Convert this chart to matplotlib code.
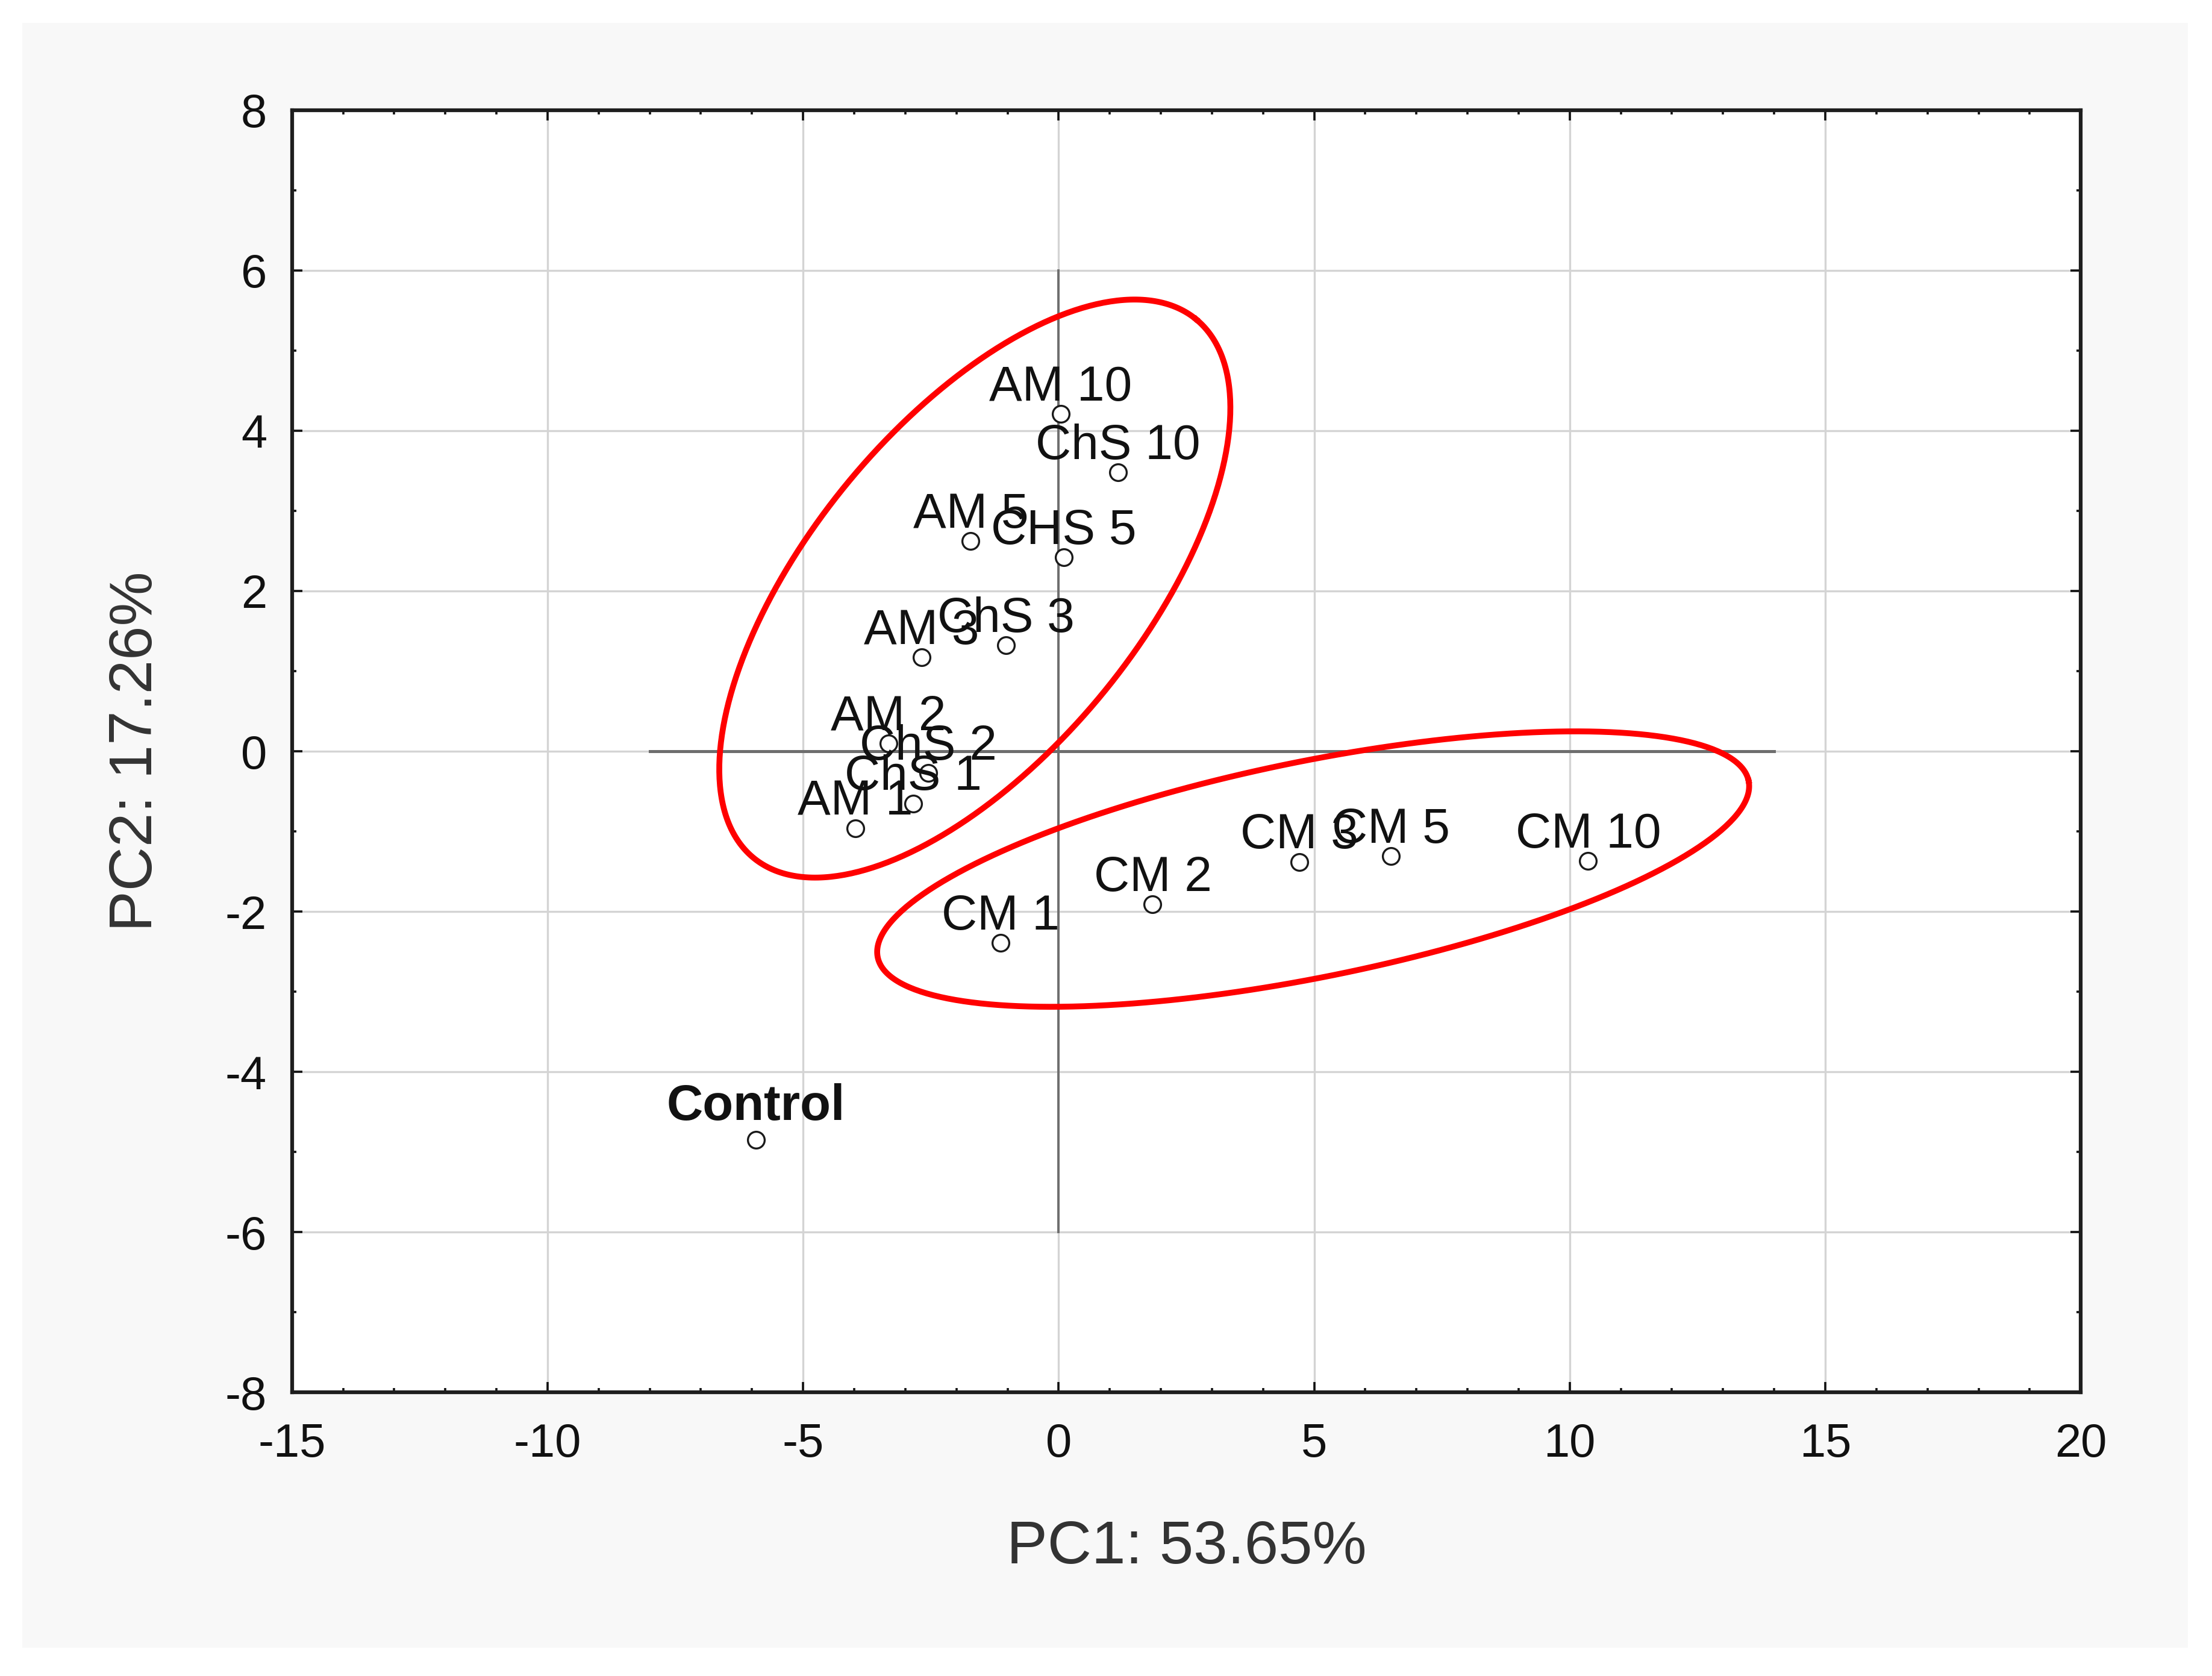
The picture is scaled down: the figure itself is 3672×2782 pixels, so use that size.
import numpy as np
import matplotlib
matplotlib.use("Agg")
import matplotlib.pyplot as plt
from matplotlib.patches import Rectangle
from matplotlib.ticker import MultipleLocator

plt.rcParams["font.family"] = ["Liberation Sans", "DejaVu Sans"]
plt.rcParams["axes.unicode_minus"] = False

# PCA scores
labels = ["AM 10", "ChS 10", "AM 5", "CHS 5", "AM 3", "ChS 3", "AM 2", "ChS 2",
          "ChS 1", "AM 1", "CM 1", "CM 2", "CM 3", "CM 5", "CM 10", "Control"]
pc1 = [0.04, 1.16, -1.72, 0.10, -2.68, -1.03, -3.33, -2.55,
       -2.85, -3.98, -1.14, 1.84, 4.71, 6.50, 10.36, -5.92]
pc2 = [4.21, 3.48, 2.62, 2.42, 1.17, 1.32, 0.10, -0.27,
       -0.65, -0.96, -2.39, -1.91, -1.38, -1.31, -1.37, -4.85]

x_label = "PC1: 53.65%"
y_label = "PC2: 17.26%"
x_ticks = [-15, -10, -5, 0, 5, 10, 15, 20]
y_ticks = [-8, -6, -4, -2, 0, 2, 4, 6, 8]

# group ellipses: centre and two conjugate semi-axis vectors (data units)
ellipse_am_chs = dict(center=(-1.64, 2.03), u=(4.33, 3.36), v=(-2.50, 1.31))
ellipse_cm = dict(center=(4.98, -1.47), u=(8.52, 1.10), v=(-0.42, 1.32))

fig = plt.figure(figsize=(36.72, 27.82), dpi=100, facecolor="white")
fig.patches.append(Rectangle((0.0102, 0.0168), 0.979, 0.9697, transform=fig.transFigure,
                             facecolor="#f8f8f8", edgecolor="none", zorder=-10))
ax = fig.add_axes([0.132, 0.1692, 0.8087, 0.7651])
ax.set_facecolor("white")
ax.set_axisbelow(True)

ax.set_xlim(x_ticks[0], x_ticks[-1])
ax.set_ylim(y_ticks[0], y_ticks[-1])
ax.set_xticks(x_ticks)
ax.set_yticks(y_ticks)
ax.xaxis.set_minor_locator(MultipleLocator(1))
ax.yaxis.set_minor_locator(MultipleLocator(1))
ax.grid(True, which="major", color="#d4d4d4", lw=2.4)

ax.tick_params(which="both", direction="in", top=True, right=True, colors="#111111")
ax.tick_params(which="major", length=12, width=2.6, labelsize=56, pad=36)
ax.tick_params(which="minor", length=5, width=2.6)
ax.tick_params(axis="y", which="major", pad=30)
for s in ax.spines.values():
    s.set_linewidth(4.5)
    s.set_color("#1e1e1e")

# origin cross
ax.plot([-8, 14], [0, 0], color="#6e6e6e", lw=3.6, zorder=2)
ax.plot([0, 0], [-6, 6], color="#6e6e6e", lw=2.8, zorder=2)

ax.plot(pc1, pc2, linestyle="none", marker="o", markersize=20, markerfacecolor="white",
        markeredgecolor="#1a1a1a", markeredgewidth=2.4, zorder=3)

for name, x, y in zip(labels, pc1, pc2):
    bold = name == "Control"
    ax.annotate(name, (x, y), xytext=(0, 24 if bold else 16), textcoords="offset points",
                ha="center", va="baseline", fontsize=60 if bold else 59, color="#111111",
                fontweight="bold" if bold else "normal", zorder=4)

t = np.linspace(0, 2 * np.pi, 400)
for e in (ellipse_am_chs, ellipse_cm):
    cx, cy = e["center"]
    ex = cx + np.cos(t) * e["u"][0] + np.sin(t) * e["v"][0]
    ey = cy + np.cos(t) * e["u"][1] + np.sin(t) * e["v"][1]
    ax.plot(ex, ey, color="#ff0000", lw=7, zorder=5)

ax.set_xlabel(x_label, fontsize=73, color="#333333", va="center")
ax.set_ylabel(y_label, fontsize=73, color="#333333", va="center")
ax.xaxis.set_label_coords(0.5, -0.121)
ax.yaxis.set_label_coords(-0.087, 0.5)

fig.savefig("out.png", dpi=100, facecolor="white")
